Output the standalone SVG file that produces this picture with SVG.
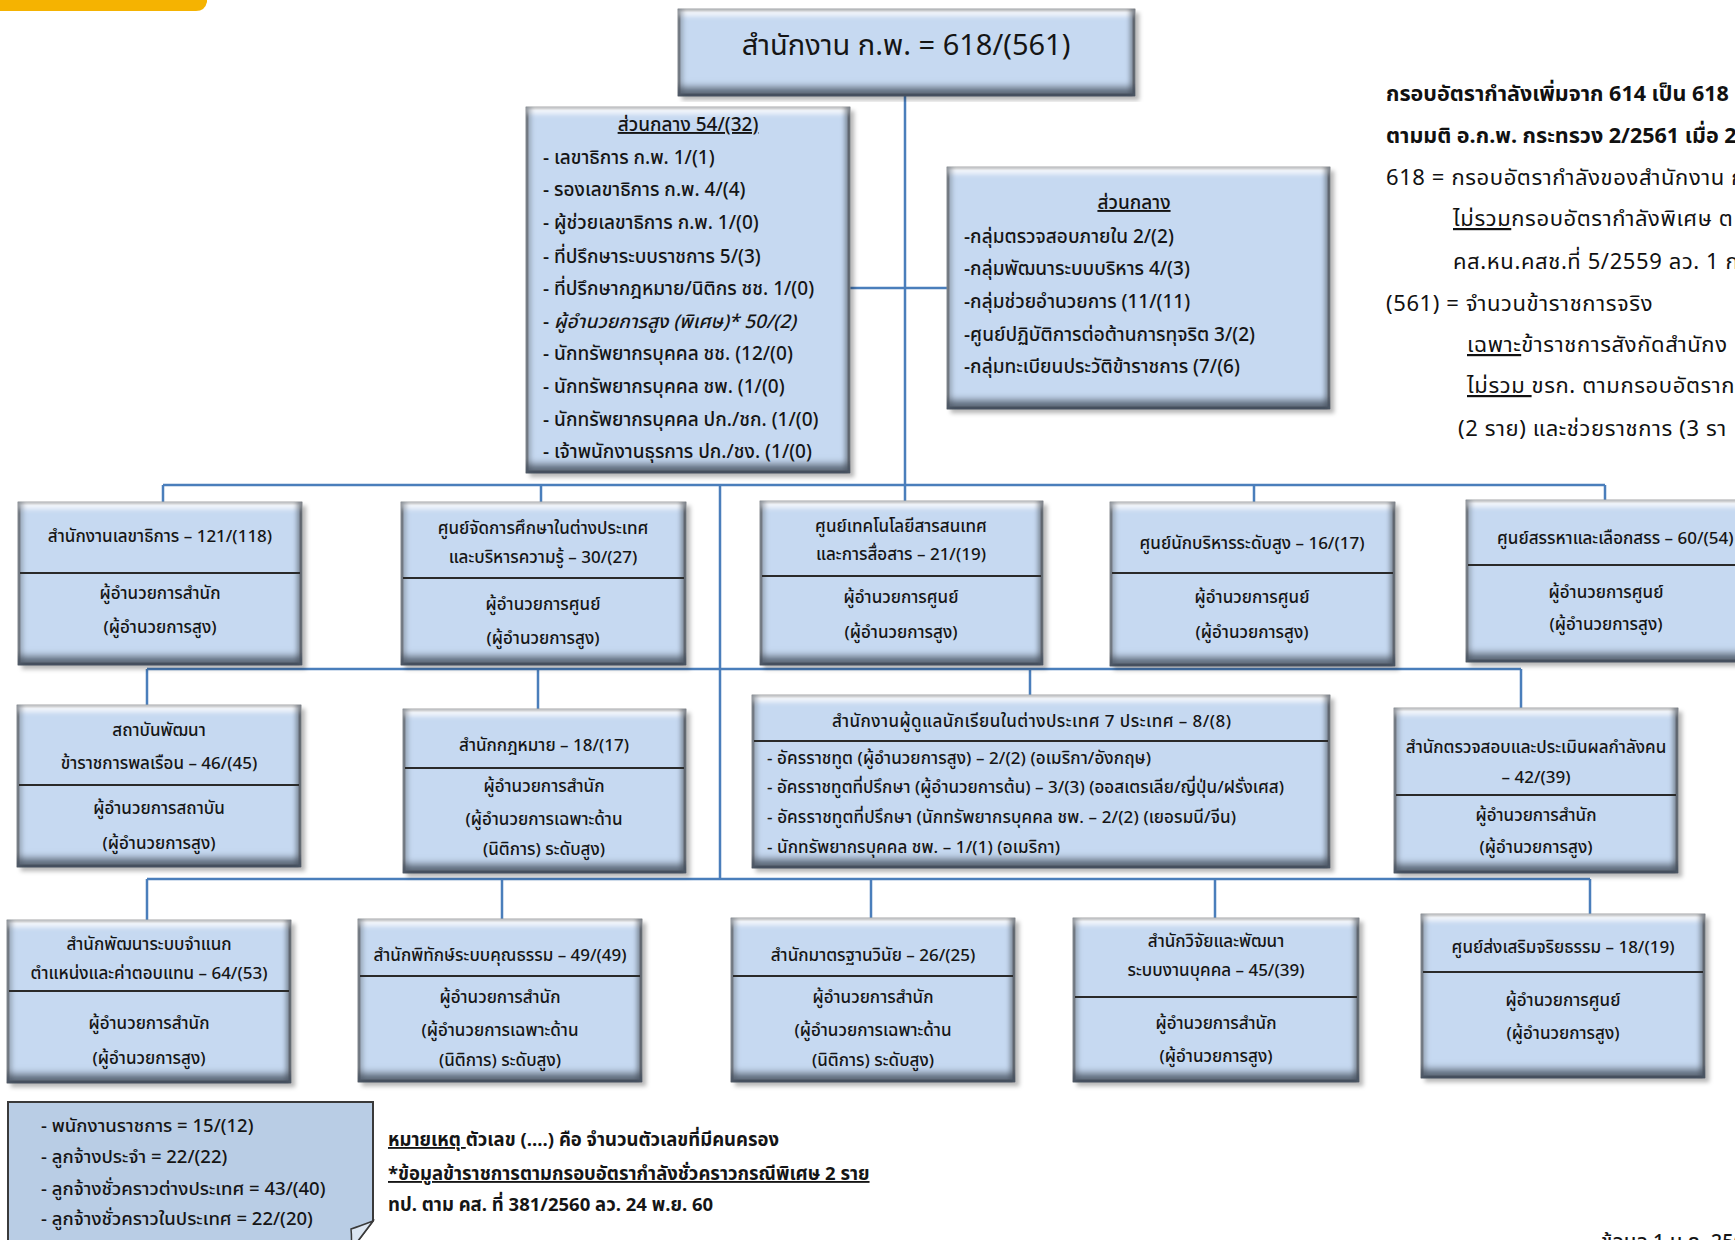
<svg xmlns="http://www.w3.org/2000/svg" width="1735" height="1240" viewBox="0 0 1735 1240">
<defs>
<style>
.box{fill:#C6D9F1;stroke:#262626;stroke-width:2.5;filter:url(#bev)}
.div{stroke:#2a2a2a;stroke-width:2}
.t{font-family:"Noto Sans Thai","Noto Sans","DejaVu Sans",sans-serif;font-size:17px;font-weight:500;fill:#151515}
.s{font-size:17px}
.l{font-size:19px}
.c{text-anchor:middle}
.u{text-decoration:underline}
.i{font-style:italic}
.n{font-family:"Noto Sans Thai","Noto Sans","DejaVu Sans",sans-serif;font-size:22px;fill:#111;letter-spacing:0.6px}
.b{font-weight:bold;letter-spacing:0;font-size:21.5px}
.r{font-weight:bold;font-size:18.5px}
.con{stroke:#4A7EBB;stroke-width:2.5;fill:none}
</style>
<filter id="bev" x="-4%" y="-4%" width="112%" height="112%">
<feGaussianBlur in="SourceAlpha" stdDeviation="2" result="sb"/>
<feOffset in="sb" dx="4" dy="4" result="so"/>
<feFlood flood-color="#000" flood-opacity="0.28"/>
<feComposite in2="so" operator="in" result="shadow"/>
<feOffset in="SourceAlpha" dy="-10" result="up"/>
<feGaussianBlur in="up" stdDeviation="3.5" result="upb"/>
<feComposite in="SourceAlpha" in2="upb" operator="out" result="botm"/>
<feFlood flood-color="#465160" flood-opacity="0.9"/>
<feComposite in2="botm" operator="in" result="bot"/>
<feOffset in="SourceAlpha" dy="7" result="dn"/>
<feGaussianBlur in="dn" stdDeviation="2.5" result="dnb"/>
<feComposite in="SourceAlpha" in2="dnb" operator="out" result="topm"/>
<feFlood flood-color="#ffffff" flood-opacity="0.8"/>
<feComposite in2="topm" operator="in" result="top"/>
<feOffset in="SourceAlpha" dx="-6" result="lf"/>
<feGaussianBlur in="lf" stdDeviation="2" result="lfb"/>
<feComposite in="SourceAlpha" in2="lfb" operator="out" result="rgtm"/>
<feFlood flood-color="#56606c" flood-opacity="0.65"/>
<feComposite in2="rgtm" operator="in" result="rgt"/>
<feOffset in="SourceAlpha" dx="6" result="rt"/>
<feGaussianBlur in="rt" stdDeviation="2" result="rtb"/>
<feComposite in="SourceAlpha" in2="rtb" operator="out" result="lftm"/>
<feFlood flood-color="#7e8a98" flood-opacity="0.5"/>
<feComposite in2="lftm" operator="in" result="lft"/>
<feMerge>
<feMergeNode in="shadow"/>
<feMergeNode in="SourceGraphic"/>
<feMergeNode in="top"/>
<feMergeNode in="lft"/>
<feMergeNode in="rgt"/>
<feMergeNode in="bot"/>
</feMerge>
</filter>
</defs>
<rect width="1735" height="1240" fill="#fff"/>

<!-- top-left orange banner -->
<path d="M0,0 H207 V2 Q205,11 196,11 H0 Z" fill="#F5B301"/>

<g id="connectors">
<path class="con" d="M905,95 V502 M849,288 H948 M163,485 H1605 M163,485 V503 M541,485 V503 M1254,485 V503 M1605,485 V501 M720,485 V879 M147,669 H1521 M147,669 V706 M538,669 V710 M1030,669 V696 M1521,669 V709 M147,879 H1590 M147,879 V921 M502,879 V920 M871,879 V919 M1215,879 V919 M1590,879 V915"/>
</g>

<g id="top">
<rect class="box" x="679" y="10" width="455" height="85"/>
<text class="t c" x="906" y="55" style="font-size:29px;font-weight:400">สำนักงาน ก.พ. = 618/(561)</text>
</g>

<g id="central1">
<rect class="box" x="527" y="108" width="322" height="364"/>
<text class="t l c u" x="688" y="131">ส่วนกลาง 54/(32)</text>
<text class="t l" x="543" y="164">- เลขาธิการ ก.พ. 1/(1)</text>
<text class="t l" x="543" y="196">- รองเลขาธิการ ก.พ. 4/(4)</text>
<text class="t l" x="543" y="229">- ผู้ช่วยเลขาธิการ  ก.พ. 1/(0)</text>
<text class="t l" x="543" y="263">- ที่ปรึกษาระบบราชการ  5/(3)</text>
<text class="t l" x="543" y="295">- ที่ปรึกษากฎหมาย/นิติกร ชช. 1/(0)</text>
<text class="t l" x="543" y="328">- <tspan class="i">ผู้อำนวยการสูง (พิเศษ)* 50/(2)</tspan></text>
<text class="t l" x="543" y="360">- นักทรัพยากรบุคคล ชช.  (12/(0)</text>
<text class="t l" x="543" y="393">- นักทรัพยากรบุคคล ชพ.  (1/(0)</text>
<text class="t l" x="543" y="426">- นักทรัพยากรบุคคล ปก./ชก.  (1/(0)</text>
<text class="t l" x="543" y="458">- เจ้าพนักงานธุรการ ปก./ชง. (1/(0)</text>
</g>

<g id="central2">
<rect class="box" x="948" y="168" width="381" height="240"/>
<text class="t l c u" x="1134" y="209">ส่วนกลาง </text>
<text class="t l" x="964" y="243">-กลุ่มตรวจสอบภายใน 2/(2)</text>
<text class="t l" x="964" y="275">-กลุ่มพัฒนาระบบบริหาร 4/(3)</text>
<text class="t l" x="964" y="308">-กลุ่มช่วยอำนวยการ (11/(11)</text>
<text class="t l" x="964" y="341">-ศูนย์ปฏิบัติการต่อต้านการทุจริต 3/(2)</text>
<text class="t l" x="964" y="373">-กลุ่มทะเบียนประวัติข้าราชการ (7/(6)</text>
</g>

<g id="annotation">
<text class="n b" x="1386" y="101">กรอบอัตรากำลังเพิ่มจาก  614 เป็น 618</text>
<text class="n b" x="1386" y="143">ตามมติ อ.ก.พ.  กระทรวง 2/2561 เมื่อ 2</text>
<text class="n" x="1386" y="185">618 = กรอบอัตรากำลังของสำนักงาน ก</text>
<text class="n" x="1453" y="226"><tspan class="u">ไม่รวม</tspan>กรอบอัตรากำลังพิเศษ ต</text>
<text class="n" x="1453" y="269">คส.หน.คสช.ที่ 5/2559  ลว. 1 ก</text>
<text class="n" x="1386" y="311">(561) = จำนวนข้าราชการจริง</text>
<text class="n" x="1467" y="352"><tspan class="u">เฉพาะ</tspan>ข้าราชการสังกัดสำนักง</text>
<text class="n" x="1467" y="393"><tspan class="u">ไม่รวม </tspan>ขรก. ตามกรอบอัตราก</text>
<text class="n" x="1458" y="436">(2 ราย) และช่วยราชการ (3 รา</text>
</g>

<g id="b1">
<rect class="box" x="19" y="503" width="282" height="161"/>
<line class="div" x1="20" y1="573" x2="300" y2="573"/>
<text class="t c" x="160" y="542">สำนักงานเลขาธิการ  – 121/(118)</text>
<text class="t c" x="160" y="599">ผู้อำนวยการสำนัก</text>
<text class="t c" x="160" y="633">(ผู้อำนวยการสูง)</text>
</g>
<g id="b2">
<rect class="box" x="402" y="503" width="283" height="161"/>
<line class="div" x1="403" y1="578" x2="684" y2="578"/>
<text class="t c" x="543" y="534">ศูนย์จัดการศึกษาในต่างประเทศ</text>
<text class="t c" x="543" y="563">และบริหารความรู้ – 30/(27)</text>
<text class="t c" x="543" y="610">ผู้อำนวยการศูนย์</text>
<text class="t c" x="543" y="644">(ผู้อำนวยการสูง)</text>
</g>
<g id="b3">
<rect class="box" x="761" y="502" width="281" height="162"/>
<line class="div" x1="762" y1="576" x2="1041" y2="576"/>
<text class="t c" x="901" y="532">ศูนย์เทคโนโลยีสารสนเทศ</text>
<text class="t c" x="901" y="560">และการสื่อสาร  – 21/(19)</text>
<text class="t c" x="901" y="603">ผู้อำนวยการศูนย์</text>
<text class="t c" x="901" y="638">(ผู้อำนวยการสูง)</text>
</g>
<g id="b4">
<rect class="box" x="1111" y="503" width="283" height="162"/>
<line class="div" x1="1112" y1="573" x2="1393" y2="573"/>
<text class="t c" x="1252" y="549">ศูนย์นักบริหารระดับสูง  – 16/(17)</text>
<text class="t c" x="1252" y="603">ผู้อำนวยการศูนย์</text>
<text class="t c" x="1252" y="638">(ผู้อำนวยการสูง)</text>
</g>
<g id="b5">
<rect class="box" x="1467" y="501" width="280" height="160"/>
<line class="div" x1="1468" y1="565" x2="1735" y2="565"/>
<text class="t" x="1497" y="544">ศูนย์สรรหาและเลือกสรร  – 60/(54)</text>
<text class="t c" x="1606" y="598">ผู้อำนวยการศูนย์</text>
<text class="t c" x="1606" y="630">(ผู้อำนวยการสูง)</text>
</g>

<g id="c1">
<rect class="box" x="18" y="706" width="282" height="160"/>
<line class="div" x1="19" y1="785" x2="299" y2="785"/>
<text class="t c" x="159" y="736">สถาบันพัฒนา</text>
<text class="t c" x="159" y="769">ข้าราชการพลเรือน  – 46/(45)</text>
<text class="t c" x="159" y="814">ผู้อำนวยการสถาบัน</text>
<text class="t c" x="159" y="849">(ผู้อำนวยการสูง)</text>
</g>
<g id="c2">
<rect class="box" x="404" y="710" width="281" height="162"/>
<line class="div" x1="405" y1="768" x2="684" y2="768"/>
<text class="t c" x="544" y="751">สำนักกฎหมาย  – 18/(17)</text>
<text class="t c" x="544" y="792">ผู้อำนวยการสำนัก</text>
<text class="t c" x="544" y="825">(ผู้อำนวยการเฉพาะด้าน</text>
<text class="t c" x="544" y="855">(นิติการ)  ระดับสูง)</text>
</g>
<g id="c3">
<rect class="box" x="753" y="696" width="576" height="171"/>
<line class="div" x1="754" y1="741" x2="1328" y2="741"/>
<text class="t s" x="832" y="727" textLength="399" lengthAdjust="spacing">สำนักงานผู้ดูแลนักเรียนในต่างประเทศ   7 ประเทศ  –  8/(8)</text>
<text class="t s" x="767" y="764" textLength="384" lengthAdjust="spacing">- อัครราชทูต (ผู้อำนวยการสูง)  – 2/(2)  (อเมริกา/อังกฤษ)</text>
<text class="t s" x="767" y="793" textLength="517" lengthAdjust="spacing">- อัครราชทูตที่ปรึกษา (ผู้อำนวยการต้น)  – 3/(3)  (ออสเตรเลีย/ญี่ปุ่น/ฝรั่งเศส)</text>
<text class="t s" x="767" y="823" textLength="469" lengthAdjust="spacing">- อัครราชทูตที่ปรึกษา (นักทรัพยากรบุคคล  ชพ. – 2/(2)  (เยอรมนี/จีน)</text>
<text class="t s" x="767" y="853" textLength="293" lengthAdjust="spacing">- นักทรัพยากรบุคคล  ชพ. – 1/(1)  (อเมริกา)</text>
</g>
<g id="c4">
<rect class="box" x="1395" y="709" width="282" height="163"/>
<line class="div" x1="1396" y1="795" x2="1676" y2="795"/>
<text class="t c" x="1536" y="753">สำนักตรวจสอบและประเมินผลกำลังคน</text>
<text class="t c" x="1536" y="783">– 42/(39)</text>
<text class="t c" x="1536" y="821">ผู้อำนวยการสำนัก</text>
<text class="t c" x="1536" y="853">(ผู้อำนวยการสูง)</text>
</g>

<g id="d1">
<rect class="box" x="8" y="921" width="282" height="161"/>
<line class="div" x1="9" y1="991" x2="289" y2="991"/>
<text class="t c" x="149" y="950">สำนักพัฒนาระบบจำแนก</text>
<text class="t c" x="149" y="979">ตำแหน่งและค่าตอบแทน – 64/(53)</text>
<text class="t c" x="149" y="1029">ผู้อำนวยการสำนัก</text>
<text class="t c" x="149" y="1064">(ผู้อำนวยการสูง)</text>
</g>
<g id="d2">
<rect class="box" x="359" y="920" width="282" height="161"/>
<line class="div" x1="360" y1="976" x2="640" y2="976"/>
<text class="t c" x="500" y="961">สำนักพิทักษ์ระบบคุณธรรม  – 49/(49)</text>
<text class="t c" x="500" y="1003">ผู้อำนวยการสำนัก</text>
<text class="t c" x="500" y="1036">(ผู้อำนวยการเฉพาะด้าน</text>
<text class="t c" x="500" y="1066">(นิติการ)  ระดับสูง)</text>
</g>
<g id="d3">
<rect class="box" x="732" y="919" width="282" height="162"/>
<line class="div" x1="733" y1="976" x2="1013" y2="976"/>
<text class="t c" x="873" y="961">สำนักมาตรฐานวินัย  – 26/(25)</text>
<text class="t c" x="873" y="1003">ผู้อำนวยการสำนัก</text>
<text class="t c" x="873" y="1036">(ผู้อำนวยการเฉพาะด้าน</text>
<text class="t c" x="873" y="1066">(นิติการ)  ระดับสูง)</text>
</g>
<g id="d4">
<rect class="box" x="1074" y="919" width="284" height="162"/>
<line class="div" x1="1075" y1="997" x2="1357" y2="997"/>
<text class="t c" x="1216" y="947">สำนักวิจัยและพัฒนา</text>
<text class="t c" x="1216" y="976">ระบบงานบุคคล  – 45/(39)</text>
<text class="t c" x="1216" y="1029">ผู้อำนวยการสำนัก</text>
<text class="t c" x="1216" y="1062">(ผู้อำนวยการสูง)</text>
</g>
<g id="d5">
<rect class="box" x="1422" y="915" width="282" height="162"/>
<line class="div" x1="1423" y1="972" x2="1703" y2="972"/>
<text class="t c" x="1563" y="953">ศูนย์ส่งเสริมจริยธรรม  – 18/(19)</text>
<text class="t c" x="1563" y="1006">ผู้อำนวยการศูนย์</text>
<text class="t c" x="1563" y="1039">(ผู้อำนวยการสูง)</text>
</g>

<g id="note">
<path d="M8,1102 H373 V1221 L351,1250 H8 Z" fill="#B9CDE5" stroke="#3a3a3a" stroke-width="2"/>
<path d="M373,1221 Q360,1226 351,1229 Q352,1238 351,1250 Z" fill="#DCE6F2" stroke="#3a3a3a" stroke-width="1.5"/>
<text class="t" x="41" y="1132" style="font-size:18.5px">- พนักงานราชการ = 15/(12)</text>
<text class="t" x="41" y="1163" style="font-size:18.5px">- ลูกจ้างประจำ = 22/(22)</text>
<text class="t" x="41" y="1195" style="font-size:18.5px">- ลูกจ้างชั่วคราวต่างประเทศ = 43/(40)</text>
<text class="t" x="41" y="1225" style="font-size:18.5px">- ลูกจ้างชั่วคราวในประเทศ = 22/(20)</text>
</g>

<g id="remarks">
<text class="t r" x="388" y="1146"><tspan class="u">หมายเหตุ </tspan>ตัวเลข (....) คือ  จำนวนตัวเลขที่มีคนครอง</text>
<text class="t r u" x="388" y="1180">*ข้อมูลข้าราชการตามกรอบอัตรากำลังชั่วคราวกรณีพิเศษ  2 ราย</text>
<text class="t r" x="388" y="1211">ทป. ตาม คส. ที่ 381/2560 ลว. 24 พ.ย. 60</text>
<text class="t" x="1601" y="1248" style="font-size:20px">ข้อมูล 1 ม.ค. 2561</text>
</g>
</svg>
